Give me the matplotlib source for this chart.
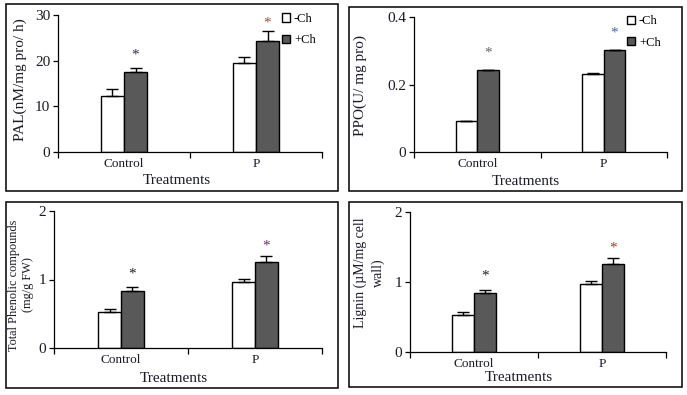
import matplotlib
matplotlib.use("Agg")
import matplotlib.pyplot as plt
from matplotlib.patches import Rectangle, Patch

plt.rcParams['font.family'] = ['Liberation Serif', 'DejaVu Serif']

categories = ["Control", "P"]
series = ["-Ch", "+Ch"]

pal_minus = [12.3, 19.4]
pal_plus = [17.5, 24.4]
pal_err_minus = [1.4, 1.3]
pal_err_plus = [1.0, 2.0]
pal_star = [21.2, 28.2]

ppo_minus = [0.091, 0.231]
ppo_plus = [0.242, 0.301]
ppo_err_minus = [0.001, 0.002]
ppo_err_plus = [0.001, 0.001]
ppo_star = [0.292, 0.351]

phen_minus = [0.52, 0.96]
phen_plus = [0.83, 1.25]
phen_err_minus = [0.045, 0.043]
phen_err_plus = [0.058, 0.088]
phen_star = [1.08, 1.49]

lig_minus = [0.53, 0.967]
lig_plus = [0.839, 1.251]
lig_err_minus = [0.038, 0.042]
lig_err_plus = [0.043, 0.085]
lig_star = [1.085, 1.488]

W, H = 687, 395
fig = plt.figure(figsize=(W / 100, H / 100), dpi=100)

def fx(px):
    return px / W

def fy(py):
    return 1 - py / H

# panel frames (pixel boxes: x0, y0, x1, y1)
frames = [(6, 4, 338, 191), (349, 7, 682, 191), (6, 202, 338, 388), (349, 202, 682, 387)]
for x0, y0, x1, y1 in frames:
    fig.patches.append(Rectangle((fx(x0), fy(y1)), fx(x1 - x0), (y1 - y0) / H,
                                 transform=fig.transFigure, fill=False,
                                 edgecolor='black', linewidth=1.1))

panels = [
    dict(box=(58, 15, 322, 152), minus=pal_minus, plus=pal_plus, em=pal_err_minus, ep=pal_err_plus,
         star=pal_star, ymax=30, yticks=[0, 10, 20, 30], ylabel="PAL(nM/mg pro/ h)", ylfs=11,
         ylc=(-0.144, 0.525), xlc=(0.45, -0.21), bw=0.175, legend=True, ls=1.1,
         star_colors=['#2a2a55', '#a0522d']),
    dict(box=(414, 17, 667, 152), minus=ppo_minus, plus=ppo_plus, em=ppo_err_minus, ep=ppo_err_plus,
         star=ppo_star, ymax=0.4, yticks=[0, 0.2, 0.4], ylabel="PPO(U/ mg pro)", ylfs=11,
         ylc=(-0.213, 0.496), xlc=(0.44, -0.22), bw=0.17, legend=True, ls=1.1,
         star_colors=['#666666', '#3a6aa8']),
    dict(box=(54, 211, 322, 348), minus=phen_minus, plus=phen_plus, em=phen_err_minus, ep=phen_err_plus,
         star=phen_star, ymax=2, yticks=[0, 1, 2], ylabel="Total Phenolic compounds\n(mg/g FW)", ylfs=8.8,
         ylc=(-0.123, 0.46), xlc=(0.448, -0.22), bw=0.17, legend=False, ls=1.15,
         star_colors=['#202020', '#6a2a6a']),
    dict(box=(410, 212, 666, 352), minus=lig_minus, plus=lig_plus, em=lig_err_minus, ep=lig_err_plus,
         star=lig_star, ymax=2, yticks=[0, 1, 2], ylabel="Lignin (µM/mg cell\nwall)", ylfs=10,
         ylc=(-0.16, 0.564), xlc=(0.426, -0.185), bw=0.17, legend=False, ls=1.45,
         star_colors=['#202020', '#a03a20']),
]

gray = '#595959'
txtc = '#1a1a2a'

for p in panels:
    x0, y0, x1, y1 = p['box']
    ax = fig.add_axes([fx(x0), fy(y1), fx(x1 - x0), (y1 - y0) / H])
    centers = [0.5, 1.5]
    bw = p['bw']
    xm = [c - bw / 2 for c in centers]
    xp = [c + bw / 2 for c in centers]
    ax.bar(xm, p['minus'], width=bw, color='white', edgecolor='black', linewidth=1.0,
           yerr=[[0] * 2, p['em']], capsize=4, error_kw=dict(elinewidth=1.0, capthick=1.0, ecolor='black'),
           label=series[0], zorder=2)
    ax.bar(xp, p['plus'], width=bw, color=gray, edgecolor='black', linewidth=1.0,
           yerr=[[0] * 2, p['ep']], capsize=4, error_kw=dict(elinewidth=1.0, capthick=1.0, ecolor='black'),
           label=series[1], zorder=2)
    for x, s, c in zip(xp, p['star'], p['star_colors']):
        ax.text(x, s, "*", ha='center', va='center', fontsize=11, color=c)
    ax.set_xlim(0, 2)
    ax.set_ylim(0, p['ymax'])
    ax.set_yticks(p['yticks'])
    ax.set_yticklabels([f"{t:g}" for t in p['yticks']], fontsize=11, color=txtc)
    ax.set_xticks([0, 1, 2])
    ax.set_xticklabels([])
    ax.set_xticks(centers, minor=True)
    ax.set_xticklabels(categories, minor=True, fontsize=9.5, color=txtc)
    ax.tick_params(axis='x', which='minor', length=0, pad=4)
    ax.tick_params(axis='x', which='major', direction='out', length=4, width=0.9)
    ax.tick_params(axis='y', direction='out', length=3.5, width=0.9, pad=2)
    for s in ['top', 'right']:
        ax.spines[s].set_visible(False)
    for s in ['left', 'bottom']:
        ax.spines[s].set_linewidth(0.9)
    ax.set_ylabel(p['ylabel'], fontsize=p['ylfs'], color=txtc, va='center', ha='center',
                  multialignment='center', linespacing=p['ls'])
    ax.yaxis.set_label_coords(*p['ylc'])
    ax.set_xlabel("Treatments", fontsize=11, color=txtc, va='center')
    ax.xaxis.set_label_coords(*p['xlc'])
    if p['legend']:
        handles = [Patch(facecolor='white', edgecolor='black', linewidth=1.0, label=series[0]),
                   Patch(facecolor=gray, edgecolor='black', linewidth=1.0, label=series[1])]
        ax.legend(handles=handles, loc='upper right', bbox_to_anchor=(1.0, 1.06), frameon=False,
                  handlelength=0.65, handleheight=0.65, handletextpad=0.3, labelspacing=0.75,
                  borderpad=0, prop={'size': 9})

fig.savefig("out.png", dpi=100)
